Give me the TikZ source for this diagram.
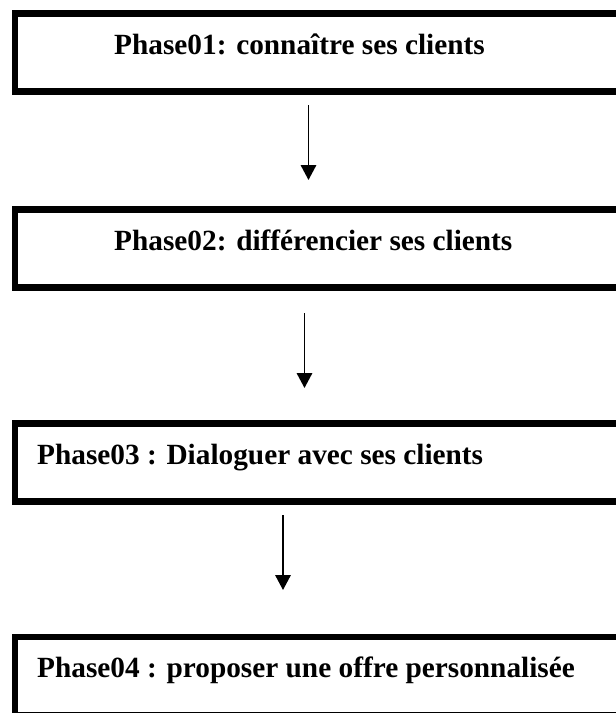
\documentclass[tikz,border=0pt]{standalone}
\usepackage{fontspec}
\setmainfont{Liberation Serif}
\usetikzlibrary{arrows.meta}
\tikzset{
	phasebox/.style={shape=rectangle, draw=black, line width=6.5pt, inner sep=0pt, outer sep=0pt, minimum width=640pt, minimum height=78pt, anchor=north west},
	phasetext/.style={anchor=base west, inner sep=0pt, font=\fontsize{29.3}{35}\selectfont\bfseries},
	flow/.style={line width=1.7pt, -{Triangle[length=15pt, width=15.5pt]}}
}
\begin{document}
\begin{tikzpicture}[x=1pt, y=-1pt]
	\useasboundingbox (0,0) rectangle (616,713);
	\clip (0,0) rectangle (616,713);
	\draw (15,13.5) node[phasebox](b1){};
	\draw (15,209.5) node[phasebox](b2){};
	\draw (15,423.5) node[phasebox](b3){};
	\draw (15,637) node[phasebox](b4){};
	
	\draw (114,54) node[phasetext](t1){Phase01: connaître ses clients};
	\draw (114,250) node[phasetext](t2){Phase02: différencier ses clients};
	\draw (37,464) node[phasetext](t3){Phase03 : Dialoguer avec ses clients};
	\draw (37,677) node[phasetext](t4){Phase04 : proposer une offre personnalisée};
	
	\coordinate (a1) at (308.5,105);
	\coordinate (a1e) at (308.5,180);
	\coordinate (a2) at (304.5,313);
	\coordinate (a2e) at (304.5,388);
	\coordinate (a3) at (283,515);
	\coordinate (a3e) at (283,590);
	
	\draw [flow](a1) -- (a1e);
	\draw [flow](a2) -- (a2e);
	\draw [flow](a3) -- (a3e);
\end{tikzpicture}
\end{document}
